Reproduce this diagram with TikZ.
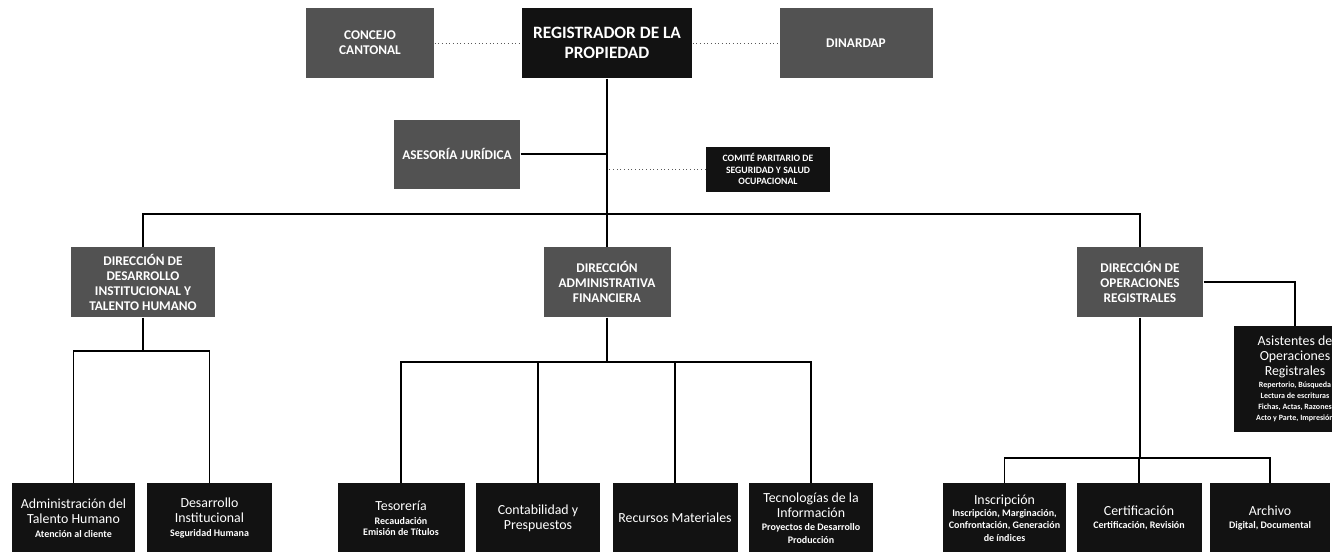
\documentclass[tikz,border=0pt]{standalone}
\usepackage{fontspec}
\setmainfont{Carlito}
\definecolor{boxgray}{RGB}{82,82,82}
\definecolor{boxblack}{RGB}{18,18,18}
\newcommand{\subtxt}{\bfseries\fontsize{7.5}{9}\selectfont}
\newcommand{\tinytxt}{\bfseries\fontsize{6}{8.25}\selectfont}

\tikzset{every picture/.style={line width=0.75pt}}
\tikzset{
  wh/.style 2 args={minimum width=#1*0.75pt,minimum height=#2*0.75pt},
  graybox/.style={fill=boxgray,text=white,inner sep=0pt,align=center,
    font=\bfseries\fontsize{10}{11.25}\selectfont},
  blackbox/.style={fill=boxblack,text=white,inner sep=0pt,align=center,
    font=\fontsize{10.4}{11.25}\selectfont},
  link/.style={line width=0.9pt},
  dotlink/.style={dotted,gray!70!black,line width=0.75pt},
}

\begin{document}
\begin{tikzpicture}[x=0.75pt,y=0.75pt,yscale=-1,xscale=1]
\useasboundingbox (0,0) rectangle (1332,551);

% top level
\node [graybox,wh={128}{70}] (concejo) at (370,43) {CONCEJO\\CANTONAL};
\node [blackbox,wh={170}{70},font=\bfseries\fontsize{13}{15}\selectfont] (reg) at (607,43) {REGISTRADOR DE LA\\PROPIEDAD};
\node [graybox,wh={153}{70}] (dinardap) at (856,43) {DINARDAP};
\node [graybox,wh={126}{69}] (asesoria) at (457,154) {ASESORÍA JURÍDICA};
\node [blackbox,wh={124}{45},font=\bfseries\fontsize{7.3}{8.8}\selectfont] (comite) at (768,169) {COMITÉ PARITARIO DE\\SEGURIDAD Y SALUD\\OCUPACIONAL};

% direcciones
\node [graybox,wh={144}{70}] (dirdes) at (143,282) {DIRECCIÓN DE\\DESARROLLO\\INSTITUCIONAL Y\\TALENTO HUMANO};
\node [graybox,wh={127}{70}] (diraf) at (607,282) {DIRECCIÓN\\ADMINISTRATIVA\\FINANCIERA};
\node [graybox,wh={126}{70}] (dirop) at (1140,282) {DIRECCIÓN DE\\OPERACIONES\\REGISTRALES};
\node [blackbox,wh={122}{106}] (asist) at (1295,379) {Asistentes de\\Operaciones\\Registrales\\[-2pt]\tinytxt Repertorio, Búsqueda\\[-3pt]\tinytxt Lectura de escrituras\\[-3pt]\tinytxt Fichas, Actas, Razones\\[-3pt]\tinytxt Acto y Parte, Impresión};

% unidades
\node [blackbox,wh={123}{70}] (admin) at (73.5,518) {Administración del\\Talento Humano\\[-1pt]\subtxt Atención al cliente};
\node [blackbox,wh={125}{70}] (desinst) at (209.5,518) {Desarrollo\\Institucional\\[-1pt]\subtxt Seguridad Humana};
\node [blackbox,wh={127}{70}] (tesor) at (401,518) {Tesorería\\[-1pt]\subtxt Recaudación\\[-3pt]\subtxt Emisión de Títulos};
\node [blackbox,wh={124}{70}] (conta) at (538,518) {Contabilidad y\\Prespuestos};
\node [blackbox,wh={125}{70}] (recursos) at (675,518) {Recursos Materiales};
\node [blackbox,wh={124}{70}] (tecno) at (811,518) {Tecnologías de la\\Información\\[-1pt]\subtxt Proyectos de Desarrollo\\[-2pt]\subtxt Producción};
\node [blackbox,wh={123}{70}] (inscr) at (1004.5,518) {Inscripción\\[-2pt]\subtxt Inscripción, Marginación,\\[-2pt]\subtxt Confrontación, Generación\\[-2pt]\subtxt de índices};
\node [blackbox,wh={125}{70}] (certif) at (1139,518) {Certificación\\[-1pt]\subtxt Certificación, Revisión};
\node [blackbox,wh={120}{70}] (archivo) at (1270,518) {Archivo\\[-1pt]\subtxt Digital, Documental};

% junctions
\coordinate (jas) at (607,154);
\coordinate (jcom) at (607,169);
\coordinate (bus) at (607,214);
\coordinate (bdes) at (143,351);
\coordinate (baf) at (607,362);
\coordinate (bop) at (1140,458);

\draw [dotlink] (concejo) -- (reg);
\draw [dotlink] (reg) -- (dinardap);
\draw [link] (reg.south) -- (bus);
\draw [link] (asesoria.east) -- (jas);
\draw [dotlink] (comite.west) -- (jcom);
\draw [link] (dirdes.north) |- (bus) -| (dirop.north);
\draw [link] (bus) -- (diraf.north);
\draw [link] (dirop.east) -| (asist.north);

\draw [link] (dirdes.south) -- (bdes);
\draw [link] (admin.north) |- (bdes) -| (desinst.north);
\draw [link] (diraf.south) -- (baf);
\draw [link] (tesor.north) |- (baf) -| (tecno.north);
\draw [link] (conta.north) -- (conta.north |- baf);
\draw [link] (recursos.north) -- (recursos.north |- baf);
\draw [link] (dirop.south) -- (bop);
\draw [link] (inscr.north) |- (bop) -| (archivo.north);
\draw [link] (certif.north) -- (certif.north |- bop);

\end{tikzpicture}
\end{document}
